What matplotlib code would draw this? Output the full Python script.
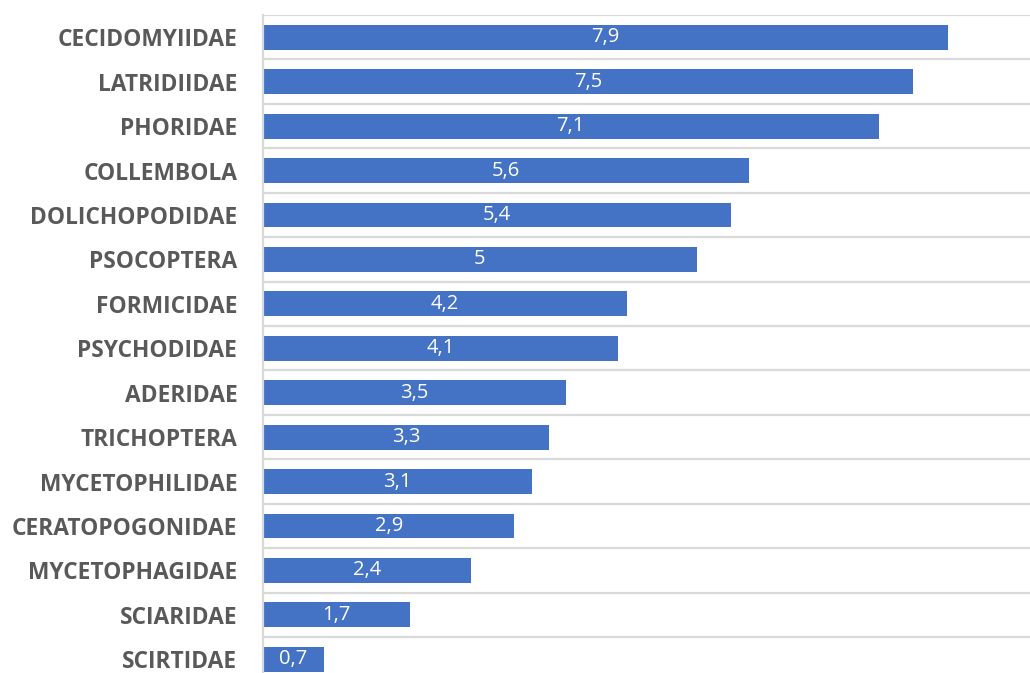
import matplotlib.pyplot as plt
import numpy as np

families = ["CECIDOMYIIDAE", "LATRIDIIDAE", "PHORIDAE", "COLLEMBOLA", "DOLICHOPODIDAE",
            "PSOCOPTERA", "FORMICIDAE", "PSYCHODIDAE", "ADERIDAE", "TRICHOPTERA",
            "MYCETOPHILIDAE", "CERATOPOGONIDAE", "MYCETOPHAGIDAE", "SCIARIDAE", "SCIRTIDAE"]
values = [7.9, 7.5, 7.1, 5.6, 5.4, 5.0, 4.2, 4.1, 3.5, 3.3, 3.1, 2.9, 2.4, 1.7, 0.7]

fig = plt.figure(figsize=(10.30, 6.73), dpi=100)
ax = fig.add_axes([263 / 1030, 1 - 681.5 / 673, (9 * 86.7) / 1030, (681.5 - 15) / 673])

n = len(families)
ypos = np.arange(n)
ax.barh(ypos, values, height=0.56, color="#4472C4", zorder=3)

for y, v in zip(ypos, values):
    txt = f"{v:g}".replace(".", ",")
    ax.text(v / 2, y, txt, ha="center", va="center", color="white",
            fontsize=14.5, family="Open Sans", zorder=4)

ax.set_xlim(0, 9)
ax.set_ylim(n - 0.5, -0.5)
ax.set_yticks(ypos)
ax.set_yticklabels(families, fontsize=16.4, fontweight="bold", color="#595959",
                   family="Open Sans")
ax.tick_params(axis="y", length=0, pad=18.5)
ax.set_xticks([])

ax.set_yticks(np.arange(n + 1) - 0.5, minor=True)
ax.tick_params(axis="y", which="minor", length=0)
ax.grid(axis="y", which="minor", color="#D9D9D9", linewidth=1.6, zorder=1)

for side in ["top", "right", "bottom"]:
    ax.spines[side].set_visible(False)
ax.spines["left"].set_color("#D9D9D9")
ax.spines["left"].set_linewidth(1.6)
ax.spines["left"].set_zorder(5)

fig.savefig("out.png", dpi=100)
